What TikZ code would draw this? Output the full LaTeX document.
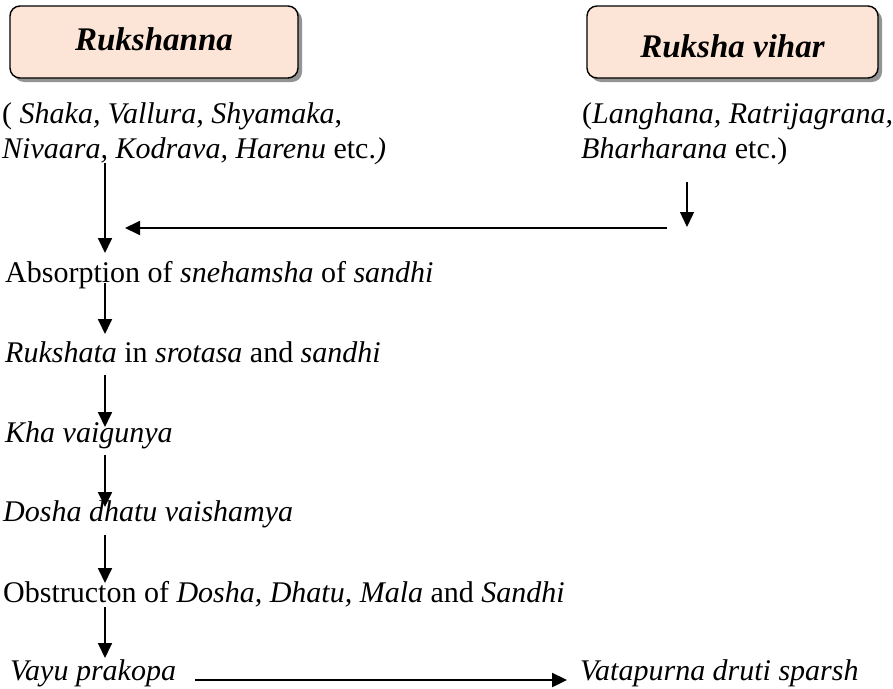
\documentclass[tikz,border=0pt]{standalone}
\usepackage{fontspec}
\setmainfont{Liberation Serif}
\usetikzlibrary{arrows.meta,shadows,calc}
\definecolor{peach}{RGB}{252,229,214}

\begin{document}
\begin{tikzpicture}[x=1pt,y=-1pt,
	headbox/.style={draw=black, line width=1.4pt, rounded corners=10pt, fill=peach,
		drop shadow={shadow xshift=4pt, shadow yshift=-4pt, fill=black!70, opacity=0.6},
		minimum height=72pt, inner sep=0pt, font=\fontsize{33}{40}\selectfont\bfseries\itshape},
	txt/.style={anchor=base west, inner sep=0pt, font=\fontsize{30}{36}\selectfont},
	arr/.style={line width=1.8pt, -{Triangle[length=15pt,width=14pt]}}]
	
	\useasboundingbox (0,0) rectangle (893,688);
	
	% HEADINGS
	\node[headbox, minimum width=288pt, text height=16pt, text depth=0pt] (rukshanna) at (154,42) {Rukshanna};
	\node[headbox, minimum width=291pt, text height=30pt, text depth=0pt] (vihar) at (732.5,42) {Ruksha vihar};
	
	% EXAMPLES
	\node[txt] (ahara1) at (2,123) {( \textit{Shaka, Vallura, Shyamaka},};
	\node[txt] (ahara2) at (2,158) {\textit{Nivaara, Kodrava, Harenu} etc.\textit{)}};
	\node[txt] (vihara1) at (582,123) {(\textit{Langhana, Ratrijagrana,}};
	\node[txt] (vihara2) at (581,158) {\textit{Bharharana} etc.)};
	
	% STAGES
	\node[txt] (absorb) at (5,282) {Absorption of \textit{snehamsha} of \textit{sandhi}};
	\node[txt] (ruksh) at (5,362) {\textit{Rukshata} in \textit{srotasa} and \textit{sandhi}};
	\node[txt] (kha) at (5,442) {\textit{Kha vaigunya}};
	\node[txt] (dosha) at (3,521) {\textit{Dosha dhatu vaishamya}};
	\node[txt] (obstr) at (3,602) {Obstructon of \textit{Dosha, Dhatu, Mala} and \textit{Sandhi}};
	\node[txt] (vayu) at (10,680) {\textit{Vayu prakopa}};
	\node[txt] (vata) at (580,680) {\textit{Vatapurna druti sparsh}};
	
	% ARROWS
	\coordinate (spine) at (105,0);
	\coordinate (drop) at (687,227);
	\coordinate (mergeR) at (667,228);
	\coordinate (mergeL) at (125,228);
	
	\draw[arr] ($(ahara2.base -| spine)+(0,5)$) -- ($(absorb.base -| spine)+(0,-29)$);
	\draw[arr, line width=1.4pt] ($(vihara2.base -| drop)+(0,24)$) -- (drop);
	\draw[arr] (mergeR) -- (mergeL);
	\draw[arr] ($(absorb.base -| spine)+(0,1)$) -- ($(ruksh.base -| spine)+(0,-28)$);
	\draw[arr] ($(ruksh.base -| spine)+(0,13)$) -- ($(kha.base -| spine)+(0,-15)$);
	\draw[arr] ($(kha.base -| spine)+(0,13)$) -- ($(dosha.base -| spine)+(0,-14)$);
	\draw[arr] ($(dosha.base -| spine)+(0,14)$) -- ($(obstr.base -| spine)+(0,-19)$);
	\draw[arr] ($(obstr.base -| spine)+(0,5)$) -- ($(vayu.base -| spine)+(0,-22)$);
	\draw[arr, line width=2.4pt] ($(vayu.base east)+(19,0)$) -- ($(vata.base west)+(-13,0)$);
\end{tikzpicture}
\end{document}
